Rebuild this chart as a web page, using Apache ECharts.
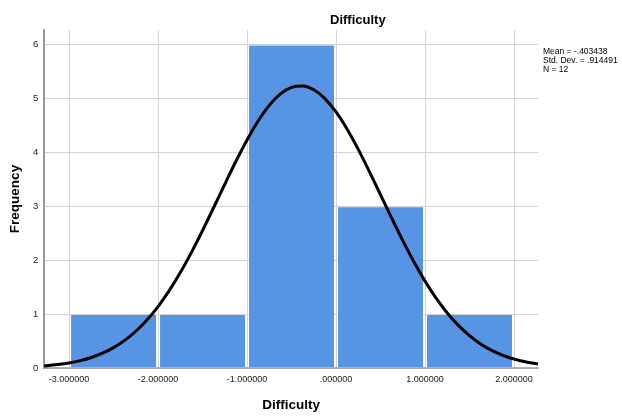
<!DOCTYPE html>
<html><head><meta charset="utf-8">
<script src="https://cdn.jsdelivr.net/npm/echarts@6/dist/echarts.min.js"></script>
<style>html,body{margin:0;padding:0;background:#fff}#c{width:622px;height:417px}</style>
</head><body><div id="c"></div>
<script>
const binEdges = [-3, -2, -1, 0, 1, 2];
const binCounts = [1, 1, 6, 3, 1];
const xTicks = [-3, -2, -1, 0, 1, 2];
const xTickLabels = ['-3.000000', '-2.000000', '-1.000000', '.000000', '1.000000', '2.000000'];
const yTicks = [0, 1, 2, 3, 4, 5, 6];
const curveX = [-3.28, -3.125, -3.0, -2.875, -2.75, -2.625, -2.5, -2.375, -2.25, -2.125, -2.0, -1.875, -1.75, -1.625, -1.5, -1.375, -1.25, -1.125, -1.0, -0.875, -0.75, -0.625, -0.5, -0.375, -0.25, -0.125, 0.0, 0.125, 0.25, 0.375, 0.5, 0.625, 0.75, 0.875, 1.0, 1.125, 1.25, 1.375, 1.5, 1.625, 1.75, 1.875, 2.0, 2.125, 2.27];
const curveY = [0.037, 0.063, 0.093, 0.136, 0.195, 0.274, 0.378, 0.512, 0.682, 0.890, 1.140, 1.434, 1.770, 2.145, 2.551, 2.977, 3.411, 3.835, 4.231, 4.583, 4.872, 5.084, 5.206, 5.232, 5.162, 4.998, 4.750, 4.430, 4.056, 3.644, 3.214, 2.782, 2.363, 1.970, 1.612, 1.295, 1.021, 0.790, 0.600, 0.447, 0.327, 0.235, 0.166, 0.115, 0.073];
const statsLines = ['Mean = -.403438', 'Std. Dev. = .914491', 'N = 12'];
const titleText = 'Difficulty';
const xName = 'Difficulty';
const yName = 'Frequency';

const chart = echarts.init(document.getElementById('c'), null, {renderer: 'canvas'});
const font = 'Arial, "Liberation Sans", sans-serif';
chart.setOption({
  animation: false,
  backgroundColor: '#fff',
  title: {text: titleText, left: 325, top: 9, textStyle: {fontFamily: font, fontSize: 13, fontWeight: 'bold', color: '#000'}},
  grid: {left: 44, right: 84, top: 30, bottom: 42, containLabel: false},
  xAxis: {
    type: 'value', min: -3.28, max: 2.27,
    name: xName, nameLocation: 'middle', nameGap: 30,
    nameTextStyle: {fontFamily: font, fontSize: 13.5, fontWeight: 'bold', color: '#000'},
    axisLine: {show: true, onZero: false, lineStyle: {color: '#999', width: 1.5}},
    axisTick: {show: false, customValues: xTicks},
    axisLabel: {customValues: xTicks, formatter: v => xTickLabels[xTicks.indexOf(v)] || '', fontFamily: font, fontSize: 9, color: '#222', margin: 7},
    splitLine: {show: true, lineStyle: {color: '#d4d4d4', width: 1}}
  },
  yAxis: {
    type: 'value', min: 0, max: 6.27, interval: 1,
    name: yName, nameLocation: 'middle', nameGap: 20,
    nameTextStyle: {fontFamily: font, fontSize: 13.5, fontWeight: 'bold', color: '#000'},
    axisLine: {show: true, onZero: false, lineStyle: {color: '#999', width: 2}},
    axisTick: {show: false},
    axisLabel: {showMaxLabel: false, formatter: v => (yTicks.indexOf(v) >= 0 ? String(v) : ''), fontFamily: font, fontSize: 9.5, color: '#222', margin: 6},
    splitLine: {show: true, showMaxLine: false, lineStyle: {color: '#d4d4d4', width: 1}}
  },
  graphic: statsLines.map((t, i) => ({
    type: 'text', left: 543, top: 47 + i * 9,
    style: {text: t, fontFamily: font, fontSize: 8.5, fill: '#000'}
  })),
  series: [
    {
      type: 'custom', z: 2,
      data: binCounts.map((c, i) => [binEdges[i], binEdges[i + 1], c]),
      renderItem: (params, api) => {
        const p0 = api.coord([api.value(0), api.value(2)]);
        const p1 = api.coord([api.value(1), 0]);
        return {type: 'rect', shape: {x: p0[0] + 2, y: p0[1] + 1, width: p1[0] - p0[0] - 4, height: p1[1] - p0[1] - 2}, style: {fill: '#5794e3'}};
      }
    },
    {
      type: 'line', z: 3, smooth: 0.3, showSymbol: false, symbol: 'none',
      data: curveX.map((x, i) => [x, curveY[i]]),
      lineStyle: {color: '#000', width: 3}
    }
  ]
});
</script></body></html>
